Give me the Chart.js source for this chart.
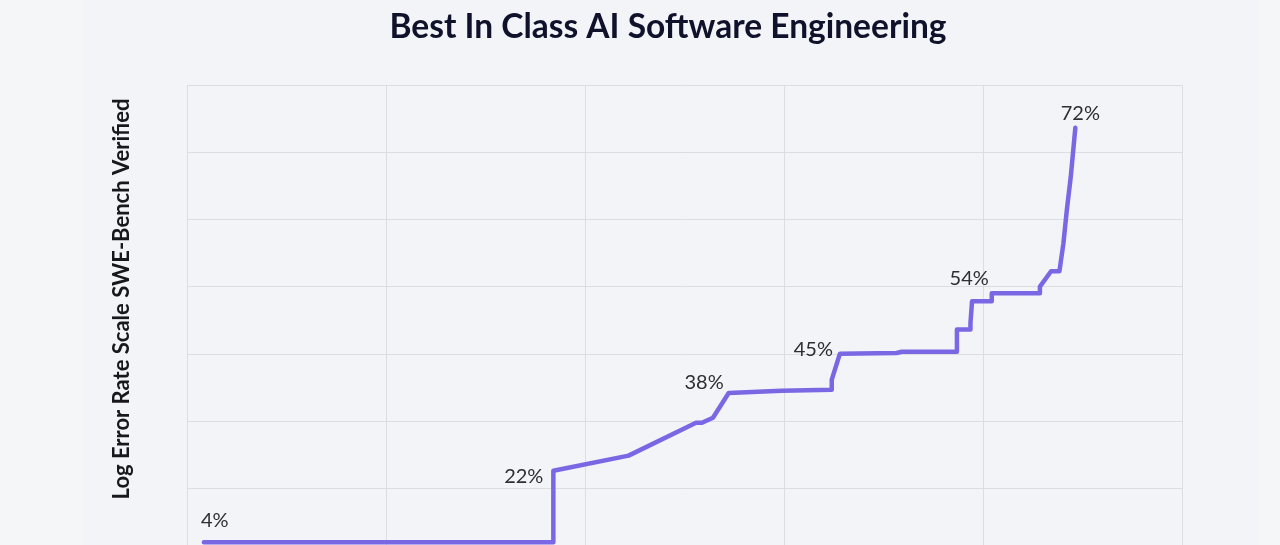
<!DOCTYPE html>
<html>
<head>
<meta charset="utf-8">
<title>Best In Class AI Software Engineering</title>
<script src="https://cdn.jsdelivr.net/npm/chart.js@4.4.1/dist/chart.umd.min.js"></script>
<style>
    html, body { margin: 0; padding: 0; overflow: hidden; background: #f5f6f8; }
    #panel { position: absolute; left: 83px; top: 0; width: 1174px; height: 570px; background: #f2f4f7; }
    #wrap { position: absolute; left: 0; top: 0; width: 1280px; height: 570px; }
</style>
</head>
<body>
<div id="panel"></div>
<div id="wrap"><canvas id="sweChart"></canvas></div>
<script>
// x position along the timeline (one unit = one vertical grid column)
const timeline = [
    0.085, 1.841, 1.841, 2.219, 2.558, 2.588, 2.643, 2.722, 2.988, 3.240,
    3.240, 3.281, 3.566, 3.591, 3.869, 3.869, 3.937, 3.937, 3.945, 4.044,
    4.044, 4.284, 4.286, 4.342, 4.384, 4.404, 4.421, 4.441, 4.464
];
// best SWE-Bench Verified score (%) at each point
const bestScore = [
    4.0, 4.0, 22.4, 25.8, 32.7, 32.7, 33.7, 38.4, 38.8, 39.0,
    40.8, 45.2, 45.3, 45.5, 45.5, 49.0, 49.0, 50.0, 53.1, 53.1,
    54.2, 54.2, 55.1, 57.1, 57.1, 60.5, 64.2, 67.6, 72.0
];
// annotated milestones (index into the arrays above)
const milestoneIdx = [0, 2, 7, 11, 20, 28];
const milestoneText = ['4%', '22%', '38%', '45%', '54%', '72%'];

const TITLE = 'Best In Class AI Software Engineering';
const Y_TITLE = 'Log Error Rate Scale SWE-Bench Verified';

// error rate axis: bottom = 100% error, each grid row = 0.2 in ln(error)
const ERR_MAX = 100;
const GRID_STEPS = 7;
const ERR_MIN = ERR_MAX * Math.exp(-0.2 * GRID_STEPS);

// label placement next to each milestone point
const labelPlace = [
    { align: 'left',   dx: -3,  dy: -15 },
    { align: 'right',  dx: -10, dy: 12 },
    { align: 'right',  dx: -5,  dy: -4 },
    { align: 'right',  dx: -7,  dy: 2 },
    { align: 'right',  dx: -3,  dy: -8 },
    { align: 'center', dx: 5,   dy: -8 }
];

const textPlugin = {
    id: 'textPlugin',
    afterDatasetsDraw(chart) {
        const ctx = chart.ctx;
        const meta = chart.getDatasetMeta(0);
        ctx.save();
        ctx.font = '20px Lato';
        ctx.fillStyle = '#2e2e33';
        ctx.textBaseline = 'alphabetic';
        milestoneIdx.forEach((idx, i) => {
            const pt = meta.data[idx];
            const p = labelPlace[i];
            ctx.textAlign = p.align;
            ctx.fillText(milestoneText[i], pt.x + p.dx, pt.y + p.dy);
        });
        ctx.restore();
    },
    afterDraw(chart) {
        const ctx = chart.ctx;
        ctx.save();
        ctx.fillStyle = '#10112a';
        ctx.font = 'bold 33.5px Lato';
        ctx.textAlign = 'center';
        ctx.textBaseline = 'alphabetic';
        ctx.fillText(TITLE, 668, 38);

        ctx.translate(129, 299);
        ctx.rotate(-Math.PI / 2);
        ctx.font = 'bold 22px Lato';
        ctx.fillStyle = '#17171c';
        ctx.fillText(Y_TITLE, 0, 0);
        ctx.restore();
    }
};

new Chart(document.getElementById('sweChart'), {
    type: 'line',
    data: {
        datasets: [{
            data: timeline.map((x, i) => ({ x: x, y: 100 - bestScore[i] })),
            borderColor: '#7967e4',
            borderWidth: 4.5,
            borderJoinStyle: 'round',
            borderCapStyle: 'round',
            pointRadius: 0,
            tension: 0,
            fill: false
        }]
    },
    options: {
        responsive: true,
        maintainAspectRatio: false,
        animation: false,
        layout: { padding: { left: 187, right: 98, top: 85, bottom: 14 } },
        plugins: {
            legend: { display: false },
            tooltip: { enabled: false }
        },
        scales: {
            x: {
                type: 'linear',
                min: 0,
                max: 5,
                ticks: { display: false, stepSize: 1 },
                grid: { color: '#dcdde1', lineWidth: 1, drawTicks: false },
                border: { display: false }
            },
            y: {
                type: 'logarithmic',
                reverse: true,
                min: ERR_MIN,
                max: ERR_MAX,
                afterBuildTicks(scale) {
                    const ticks = [];
                    for (let k = 0; k <= GRID_STEPS; k++) {
                        ticks.push({ value: ERR_MAX * Math.exp(-0.2 * k) });
                    }
                    scale.ticks = ticks;
                },
                ticks: { display: false },
                grid: { color: '#dcdde1', lineWidth: 1, drawTicks: false },
                border: { display: false }
            }
        }
    },
    plugins: [textPlugin]
});
</script>
</body>
</html>
